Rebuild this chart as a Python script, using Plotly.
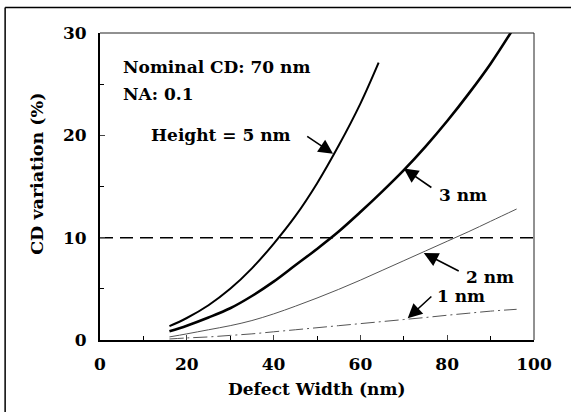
import plotly.graph_objects as go

# ---- data ----
x_5nm = [16, 20, 25, 30, 35, 40, 45, 50, 55, 60, 64.2]
y_5nm = [1.35, 2.15, 3.4, 5.0, 7.0, 9.4, 12.1, 15.3, 19.0, 23.1, 27.1]

x_3nm = [16, 20, 25, 30, 35, 40, 45, 50, 55, 60, 65, 70, 75, 80, 85, 90, 95.5]
y_3nm = [0.85, 1.4, 2.2, 3.1, 4.3, 5.7, 7.3, 8.9, 10.6, 12.5, 14.5, 16.6, 18.9, 21.4, 24.1, 27.0, 30.6]

x_2nm = [16, 20, 25, 30, 35, 40, 45, 50, 55, 60, 65, 70, 75, 80, 85, 90, 96]
y_2nm = [0.3, 0.6, 1.0, 1.4, 1.9, 2.55, 3.3, 4.1, 4.95, 5.85, 6.8, 7.75, 8.7, 9.65, 10.6, 11.6, 12.8]

x_1nm = [16, 20, 25, 30, 35, 40, 45, 50, 55, 60, 65, 70, 75, 80, 85, 90, 96]
y_1nm = [0.1, 0.2, 0.3, 0.45, 0.6, 0.8, 1.0, 1.2, 1.4, 1.6, 1.8, 2.0, 2.2, 2.42, 2.62, 2.82, 3.0]

limit_x = [0, 100]
limit_y = [10, 10]

x_ticks = [0, 20, 40, 60, 80, 100]
y_ticks = [0, 10, 20, 30]

FONT = "DejaVu Serif"

fig = go.Figure()
fig.add_trace(go.Scatter(x=limit_x, y=limit_y, mode="lines",
                         line=dict(color="black", width=1.5, dash="13px,7px")))
fig.add_trace(go.Scatter(x=x_1nm, y=y_1nm, mode="lines",
                         line=dict(color="#555", width=1, dash="14px,4px,2px,4px"), line_shape="spline"))
fig.add_trace(go.Scatter(x=x_2nm, y=y_2nm, mode="lines",
                         line=dict(color="#555", width=1), line_shape="spline"))
fig.add_trace(go.Scatter(x=x_3nm, y=y_3nm, mode="lines",
                         line=dict(color="black", width=2.6), line_shape="spline"))
fig.add_trace(go.Scatter(x=x_5nm, y=y_5nm, mode="lines",
                         line=dict(color="black", width=2), line_shape="spline"))

# text annotations
texts = [
    ("Nominal CD: 70 nm", 4.9, 26.7),
    ("NA: 0.1", 4.9, 24.0),
    ("Height = 5 nm", 11.3, 20.0),
    ("3 nm", 77.6, 14.2),
    ("2 nm", 83.8, 6.2),
    ("1 nm", 77.1, 4.3),
]
for t, x, y in texts:
    fig.add_annotation(text=t, x=x, y=y, xref="x", yref="y", xanchor="left", yanchor="middle",
                       showarrow=False, font=dict(family=FONT, size=17, color="black", weight="bold"))

# arrows: (tail_x, tail_y, tip_x, tip_y)
arrows = [
    (47.4, 20.0, 53.7, 18.2),
    (76.7, 14.8, 70.0, 16.75),
    (83.0, 6.66, 74.6, 8.5),
    (76.7, 4.39, 70.9, 2.12),
]
for ax_, ay_, x, y in arrows:
    fig.add_annotation(text="", x=x, y=y, ax=ax_, ay=ay_, xref="x", yref="y", axref="x", ayref="y",
                       showarrow=True, arrowhead=2, arrowsize=1.8, arrowwidth=1.6, arrowcolor="black")

# axis titles
fig.add_annotation(text="Defect Width (nm)", x=0.5, y=-0.16, xref="paper", yref="paper",
                   xanchor="center", yanchor="middle", showarrow=False,
                   font=dict(family=FONT, size=17, color="black", weight="bold"))
fig.add_annotation(text="CD variation (%)", x=-0.147, y=0.542, xref="paper", yref="paper",
                   xanchor="center", yanchor="middle", showarrow=False, textangle=-90,
                   font=dict(family=FONT, size=17.5, color="black", weight="bold"))

# outer frame (left and top edges)
fig.add_shape(type="line", xref="paper", yref="paper", x0=-0.2186, x1=-0.2186, y0=1.0829, y1=-0.24,
              line=dict(color="black", width=1.5))
fig.add_shape(type="line", xref="paper", yref="paper", x0=-0.2186, x1=1.09, y0=1.0829, y1=1.0829,
              line=dict(color="black", width=1.5))
# thinner top and right plot borders
fig.add_shape(type="line", xref="paper", yref="paper", x0=0, x1=1, y0=1, y1=1,
              line=dict(color="#222", width=1))
fig.add_shape(type="line", xref="paper", yref="paper", x0=1, x1=1, y0=0, y1=1,
              line=dict(color="#222", width=1))

fig.update_layout(
    width=571, height=412,
    margin=dict(l=100, r=36.5, t=32.5, b=72),
    paper_bgcolor="white", plot_bgcolor="white",
    showlegend=False,
    font=dict(family=FONT, size=17, color="black", weight="bold"),
)
fig.update_xaxes(range=[0, 100], tickvals=x_ticks, ticks="inside", ticklen=5, tickwidth=1.2,
                 minor=dict(dtick=10, ticks="inside", ticklen=4, tickcolor="black"),
                 showline=True, linecolor="black", linewidth=1.8, mirror=False,
                 showgrid=False, zeroline=False, ticklabelstandoff=8,
                 tickfont=dict(family=FONT, size=17, color="black", weight="bold"))
fig.update_yaxes(range=[0, 30], tickvals=y_ticks, ticks="inside", ticklen=5, tickwidth=1.2,
                 minor=dict(dtick=5, ticks="inside", ticklen=4, tickcolor="black"),
                 showline=True, linecolor="black", linewidth=1.8, mirror=False,
                 showgrid=False, zeroline=False, ticklabelstandoff=8,
                 tickfont=dict(family=FONT, size=17, color="black", weight="bold"))

fig.write_html("out.html", config={"displayModeBar": False},
               post_script="document.body.style.margin='0';")
